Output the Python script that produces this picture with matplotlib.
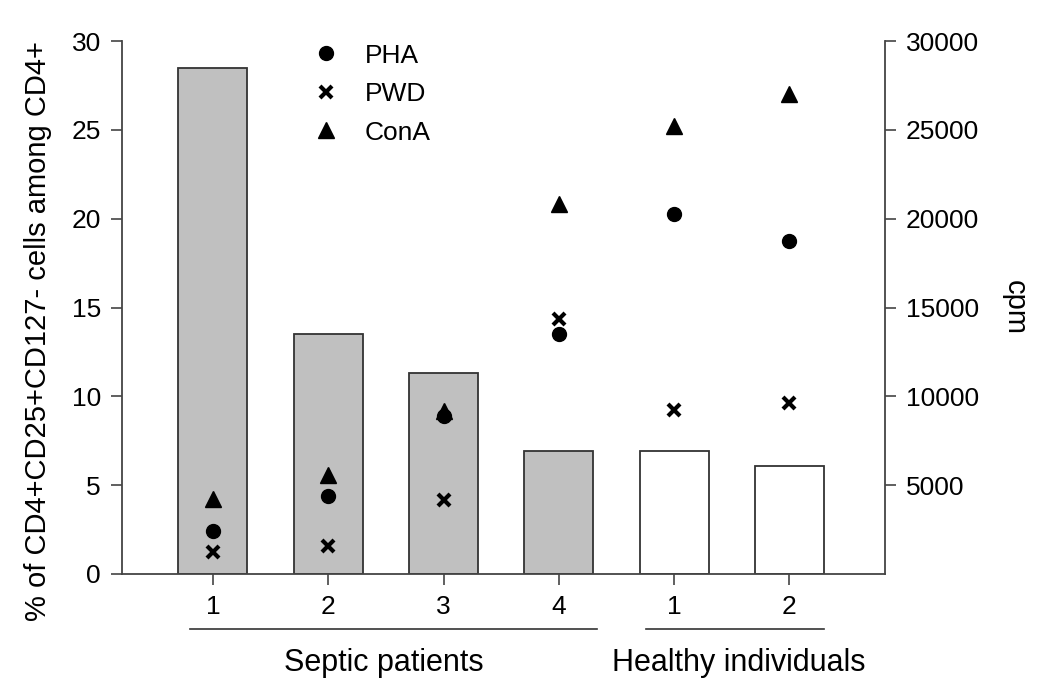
import matplotlib
matplotlib.use('Agg')
import matplotlib.pyplot as plt
from matplotlib.transforms import blended_transform_factory

plt.rcParams['font.family'] = ['Liberation Sans', 'DejaVu Sans']

# data
positions = [1, 2, 3, 4, 5, 6]
tick_labels = ['1', '2', '3', '4', '1', '2']
treg_pct = [28.5, 13.5, 11.3, 6.9, 6.9, 6.1]
bar_colors = ['#c0c0c0', '#c0c0c0', '#c0c0c0', '#c0c0c0', 'white', 'white']
pha = [2400, 4400, 8900, 13500, 20250, 18750]
pwd = [1250, 1600, 4150, 14350, 9230, 9650]
cona = [4200, 5600, 9150, 20850, 25200, 27000]

fig = plt.figure(figsize=(10.5, 6.97), dpi=100)
ax = fig.add_axes([0.116, 0.1765, 0.727, 0.7645])

ax.bar(positions, treg_pct, width=0.6, color=bar_colors,
       edgecolor='#333333', linewidth=1.3, zorder=2)
ax.set_xlim(0.21, 6.83)
ax.set_ylim(0, 30)
ax.set_yticks(range(0, 31, 5))
ax.set_xticks(positions)
ax.set_xticklabels(tick_labels)
ax.set_ylabel('% of CD4+CD25+CD127- cells among CD4+', fontsize=21)
ax.yaxis.set_label_coords(-0.092, 0.455)
ax.spines['top'].set_visible(False)
ax.spines['right'].set_visible(False)
for s in ['left', 'bottom']:
    ax.spines[s].set_color('#444444')
    ax.spines[s].set_linewidth(1.3)
ax.tick_params(labelsize=19, length=8, width=1.2, color='#444444', pad=7)

ax2 = ax.twinx()
ax2.set_ylim(0, 30000)
ax2.set_yticks(range(5000, 30001, 5000))
ax2.set_ylabel('cpm', fontsize=21, rotation=270, labelpad=36)
ax2.spines['top'].set_visible(False)
ax2.spines['left'].set_visible(False)
ax2.spines['bottom'].set_visible(False)
ax2.spines['right'].set_color('#444444')
ax2.spines['right'].set_linewidth(1.3)
ax2.tick_params(labelsize=19, length=8, width=1.2, color='#444444', pad=7)

ax2.plot(positions, pha, 'o', color='black', markersize=10, label='PHA', zorder=3)
ax2.plot(positions, pwd, 'x', color='black', markersize=9, markeredgewidth=3,
         label='PWD', zorder=3)
ax2.plot(positions, cona, '^', color='black', markersize=11, label='ConA', zorder=3)

ax2.legend(loc='upper left', bbox_to_anchor=(0.215, 1.04), frameon=False,
           fontsize=19, labelspacing=0.55, handletextpad=0.9, handlelength=1.2)

# group annotations below the axis
tr = blended_transform_factory(ax.transData, ax.transAxes)
ax.plot([0.80, 4.33], [-0.103, -0.103], color='#333333', lw=1.2,
        transform=tr, clip_on=False)
ax.plot([4.76, 6.30], [-0.103, -0.103], color='#333333', lw=1.2,
        transform=tr, clip_on=False)
ax.text(2.48, -0.167, 'Septic patients', transform=tr, ha='center',
        va='center', fontsize=22)
ax.text(5.56, -0.167, 'Healthy individuals', transform=tr, ha='center',
        va='center', fontsize=22)

fig.savefig('out.png', dpi=100)
